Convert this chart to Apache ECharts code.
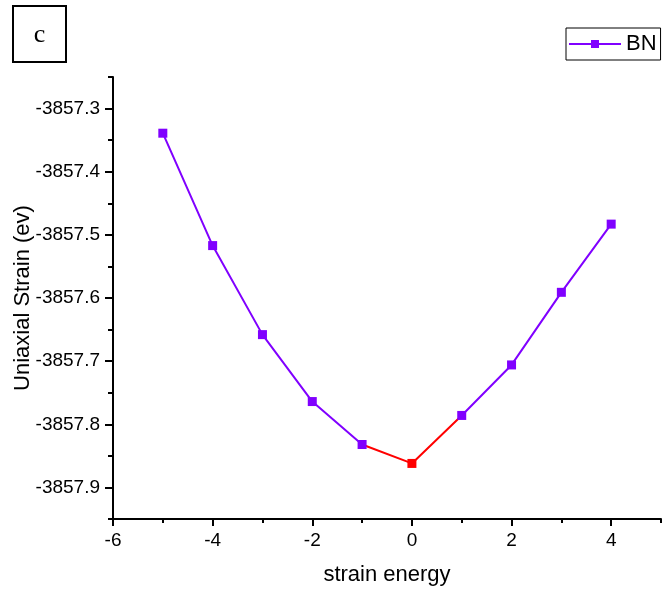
<!DOCTYPE html>
<html>
<head>
<meta charset="utf-8">
<script src="https://cdn.jsdelivr.net/npm/echarts@6/dist/echarts.min.js"></script>
<style>
  html, body { margin: 0; padding: 0; background: #fff; }
  #chart { width: 662px; height: 593px; }
</style>
</head>
<body>
<div id="chart"></div>
<script>
// Total energy of BN under uniaxial strain
const strain = [-5, -4, -3, -2, -1, 0, 1, 2, 3, 4];
const energy = [-3857.339, -3857.517, -3857.658, -3857.764, -3857.832,
                -3857.862, -3857.786, -3857.706, -3857.591, -3857.483];

// Axis ticks and labels
const xMajorTicks = [-6, -4, -2, 0, 2, 4];
const xMinorTicks = [-5, -3, -1, 1, 3, 5];
const yMajorTicks = [-3857.9, -3857.8, -3857.7, -3857.6, -3857.5, -3857.4, -3857.3];
const yMinorTicks = [-3857.95, -3857.85, -3857.75, -3857.65, -3857.55, -3857.45, -3857.35, -3857.25];

const PURPLE = '#8000ff';
const RED = '#ff0000';
const FONT = 'Liberation Sans, Arial, sans-serif';

// The minimum (equilibrium) point and its two neighbours are drawn in red
const minIdx = energy.indexOf(Math.min(...energy));
const mainData = strain.map((x, i) => [x, i === minIdx ? '-' : energy[i]]);
const minData = [minIdx - 1, minIdx, minIdx + 1].map(i => ({
  value: [strain[i], energy[i]],
  symbol: i === minIdx ? 'rect' : 'none'
}));

const chart = echarts.init(document.getElementById('chart'), null, { renderer: 'canvas' });

const axisLineStyle = { color: '#000', width: 2 };

chart.setOption({
  animation: false,
  backgroundColor: '#fff',
  grid: { left: 113, right: 1, top: 77, bottom: 74, outerBoundsMode: 'none' },
  legend: {
    data: ['BN'],
    left: 566,
    top: 28,
    orient: 'horizontal',
    itemWidth: 52,
    itemHeight: 10,
    padding: [5, 4, 5, 2],
    borderColor: '#000',
    borderWidth: 1,
    textStyle: { fontFamily: FONT, fontSize: 22, color: '#000' }
  },
  graphic: [
    {
      type: 'rect',
      shape: { x: 13, y: 6, width: 53, height: 56 },
      style: { fill: '#fff', stroke: '#000', lineWidth: 2 }
    },
    {
      type: 'text',
      x: 39.5,
      y: 35,
      style: {
        text: 'c',
        fontFamily: 'Liberation Serif, Times New Roman, serif',
        fontSize: 26,
        fill: '#000',
        align: 'center',
        verticalAlign: 'middle'
      }
    }
  ],
  xAxis: [
    {
      type: 'value',
      min: -6, max: 5, interval: 1,
      position: 'bottom',
      axisLine: { show: true, onZero: false, lineStyle: axisLineStyle },
      axisTick: { show: true, customValues: xMajorTicks, length: 7, lineStyle: axisLineStyle },
      axisLabel: { customValues: xMajorTicks, fontFamily: FONT, fontSize: 19, color: '#000', margin: 12 },
      splitLine: { show: false },
      name: 'strain energy',
      nameLocation: 'middle',
      nameGap: 45,
      nameMoveOverlap: false,
      nameTextStyle: { fontFamily: FONT, fontSize: 22, color: '#000' }
    },
    {
      type: 'value',
      min: -6, max: 5, interval: 1,
      position: 'bottom',
      axisLine: { show: false, onZero: false },
      axisTick: { show: true, customValues: xMinorTicks, length: 4, lineStyle: axisLineStyle },
      axisLabel: { show: false },
      splitLine: { show: false }
    }
  ],
  yAxis: [
    {
      type: 'value',
      min: -3857.95, max: -3857.25, interval: 0.05,
      position: 'left',
      scale: true,
      axisLine: { show: true, onZero: false, lineStyle: axisLineStyle },
      axisTick: { show: true, customValues: yMajorTicks, length: 8, lineStyle: axisLineStyle },
      axisLabel: {
        customValues: yMajorTicks,
        formatter: v => Number(v).toFixed(1),
        fontFamily: FONT, fontSize: 19, color: '#000', margin: 13
      },
      splitLine: { show: false },
      name: 'Uniaxial Strain (ev)',
      nameLocation: 'middle',
      nameRotate: 90,
      nameGap: 79,
      nameMoveOverlap: false,
      nameTextStyle: { fontFamily: FONT, fontSize: 22, color: '#000' }
    },
    {
      type: 'value',
      min: -3857.95, max: -3857.25, interval: 0.05,
      position: 'left',
      scale: true,
      axisLine: { show: false, onZero: false },
      axisTick: { show: true, customValues: yMinorTicks, length: 5, lineStyle: axisLineStyle },
      axisLabel: { show: false },
      splitLine: { show: false }
    }
  ],
  series: [
    {
      name: 'BN minimum',
      type: 'line',
      xAxisIndex: 0,
      yAxisIndex: 0,
      data: minData,
      symbol: 'rect',
      symbolSize: 9,
      z: 2,
      lineStyle: { color: RED, width: 2 },
      itemStyle: { color: RED }
    },
    {
      name: 'BN',
      type: 'line',
      xAxisIndex: 0,
      yAxisIndex: 0,
      data: mainData,
      connectNulls: false,
      symbol: 'rect',
      symbolSize: 9,
      z: 3,
      lineStyle: { color: PURPLE, width: 2 },
      itemStyle: { color: PURPLE }
    }
  ]
});
</script>
</body>
</html>
